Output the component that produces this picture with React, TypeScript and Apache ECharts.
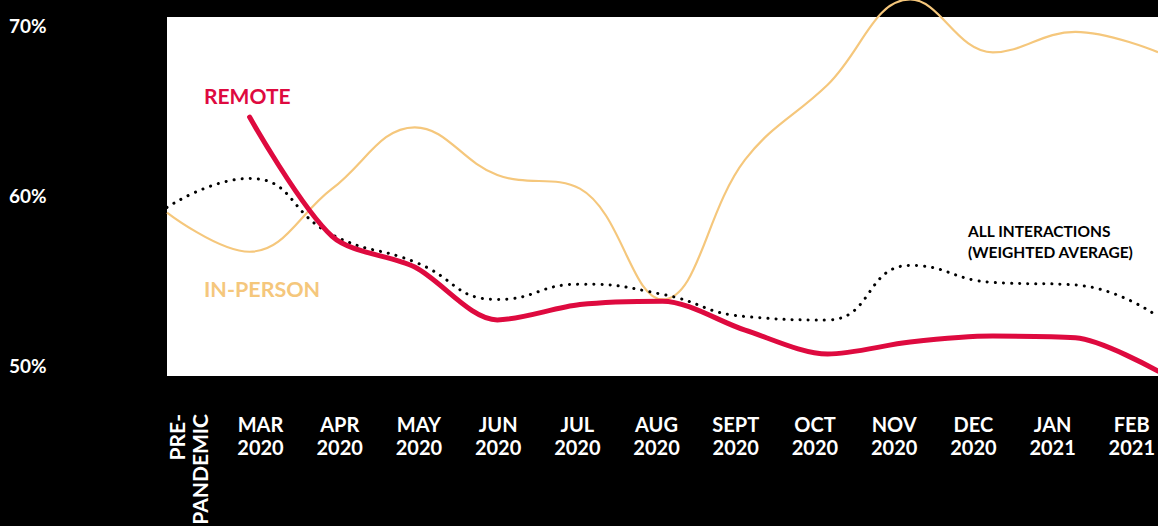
import React, { useEffect, useRef } from "react";
import * as echarts from "echarts";

const categories = [
  "PRE-PANDEMIC", "MAR 2020", "APR 2020", "MAY 2020", "JUN 2020", "JUL 2020", "AUG 2020",
  "SEPT 2020", "OCT 2020", "NOV 2020", "DEC 2020", "JAN 2021", "FEB 2021",
];
const monthLabels = categories.slice(1);
const yTicks = [50, 60, 70];

const inPerson = [59.0, 56.7, 60.4, 64.0, 61.2, 60.4, 53.9, 62.1, 66.5, 71.5, 68.4, 69.6, 68.4];
const remote = [null, 64.6, 57.6, 55.8, 52.7, 53.6, 53.8, 52.1, 50.7, 51.4, 51.75, 51.65, 49.7];
const allInteractions = [59.3, 61.0, 57.7, 56.1, 53.9, 54.8, 54.2, 52.9, 52.7, 55.9, 54.9, 54.75, 52.9];

const RED = "#DE0A3F";
const YELLOW = "#F5C77C";
const FONT = "Lato";

export default function App() {
  const ref = useRef<HTMLDivElement>(null);
  useEffect(() => {
    const chart = echarts.init(ref.current!, null, { renderer: "svg" });
    chart.setOption({
      animation: false,
      backgroundColor: "#000",
      grid: [
        { left: 167, right: 0, top: 17, bottom: 150, show: true, backgroundColor: "#fff", borderWidth: 0 },
        { left: 260.5, right: 24, top: 17, bottom: 150, show: false },
      ],
      xAxis: [
        {
          type: "category", gridIndex: 0, data: categories, boundaryGap: false,
          axisLine: { show: false }, axisTick: { show: false }, axisLabel: { show: false }, splitLine: { show: false },
        },
        {
          type: "category", gridIndex: 1, data: monthLabels, boundaryGap: false,
          axisLine: { show: false }, axisTick: { show: false }, splitLine: { show: false },
          axisLabel: {
            color: "#fff", fontFamily: FONT, fontWeight: "bold", fontSize: 20, lineHeight: 23,
            margin: 36, verticalAlign: "top", interval: 0,
            formatter: (v: string) => v.split(" ").join("\n"),
          },
        },
      ],
      yAxis: [
        {
          type: "value", gridIndex: 0, min: 49.41, max: 70.47,
          axisLine: { show: false }, axisTick: { show: false }, splitLine: { show: false },
          axisLabel: {
            customValues: yTicks, formatter: "{value}%", color: "#fff", fontFamily: FONT,
            fontWeight: "bold", fontSize: 19, align: "left", margin: 158,
          },
        },
        { type: "value", gridIndex: 1, min: 0, max: 1, show: false },
      ],
      series: [
        {
          type: "line", name: "In-person", data: inPerson, smooth: 0.4, symbol: "none", clip: false,
          lineStyle: { color: YELLOW, width: 2.2 }, z: 2,
        },
        {
          type: "line", name: "All interactions", data: allInteractions, smooth: 0.5, symbol: "none",
          lineStyle: { color: "#000", width: 3, type: [0.1, 8], cap: "round" }, z: 3,
        },
        {
          type: "line", name: "Remote", data: remote, smooth: 0.3, symbol: "none",
          lineStyle: { color: RED, width: 5, cap: "round" }, z: 4,
        },
      ],
      graphic: [
        {
          type: "text", left: 204, top: 85,
          style: { text: "REMOTE", fill: RED, font: `bold 21px ${FONT}` },
        },
        {
          type: "text", left: 204, top: 278,
          style: { text: "IN-PERSON", fill: YELLOW, font: `bold 21.5px ${FONT}` },
        },
        {
          type: "text", left: 968, top: 220,
          style: {
            text: "ALL INTERACTIONS\n(WEIGHTED AVERAGE)", fill: "#000",
            font: `bold 15.5px ${FONT}`, lineHeight: 21,
          },
        },
        {
          type: "text", x: 188, y: 414, rotation: Math.PI / 2,
          style: {
            text: "PRE-\nPANDEMIC", fill: "#fff", font: `bold 21px ${FONT}`, lineHeight: 23,
            align: "right", verticalAlign: "middle",
          },
        },
      ],
    });
    return () => chart.dispose();
  }, []);
  return <div ref={ref} style={{ width: 1158, height: 526, position: "fixed", left: 0, top: 0 }} />;
}
